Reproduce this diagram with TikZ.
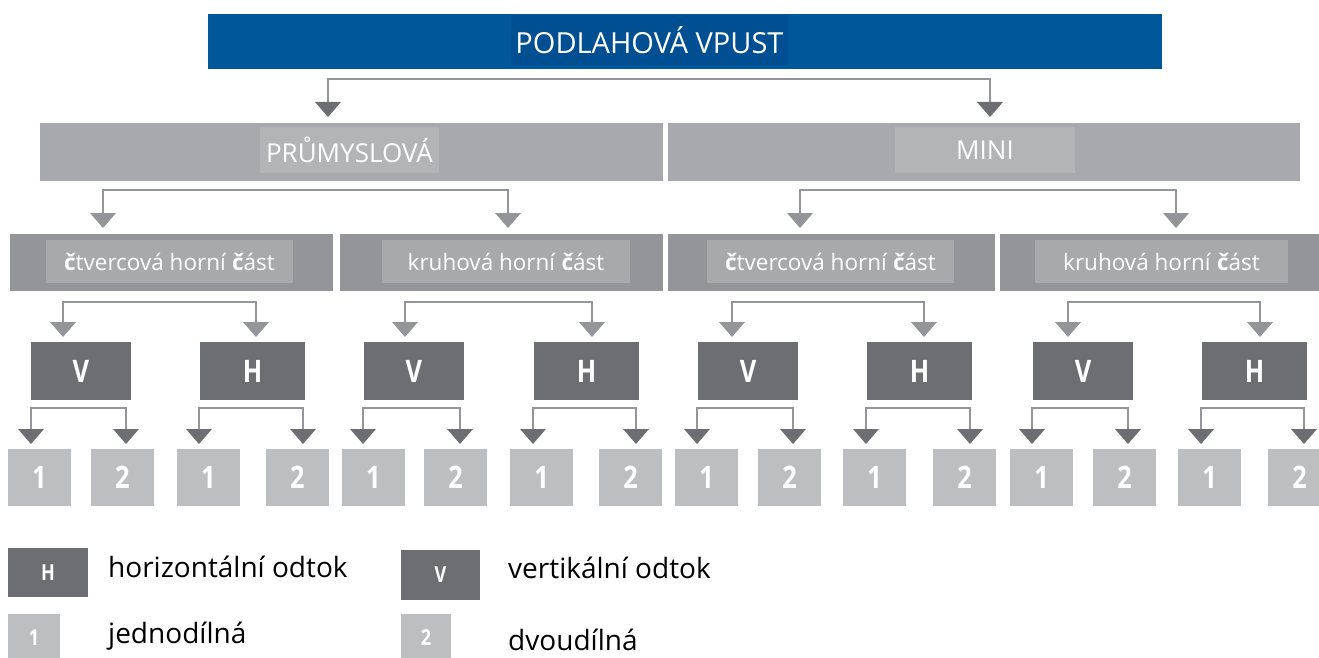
\documentclass[tikz,border=0pt]{standalone}
\usepackage{fontspec}
\usepackage{graphicx}
\setmainfont{Open Sans}
\usetikzlibrary{arrows.meta}
\definecolor{blueO}{HTML}{00579A}
\definecolor{blueI}{HTML}{004F92}
\definecolor{gLtwo}{HTML}{A7A9AC}
\definecolor{gLtwoI}{HTML}{B3B4B6}
\definecolor{gLthree}{HTML}{939598}
\definecolor{gLthreeI}{HTML}{A8A9AB}
\definecolor{gD}{HTML}{6D6E71}
\definecolor{gN}{HTML}{BCBEC0}
\definecolor{gLine}{HTML}{939598}
\newcommand\cnd[1]{\scalebox{0.82}[1]{\bfseries #1}}
\newcommand\mkbox[7]{\node[#6, minimum width={(#4)-(#2)}, minimum height={(#5)-(#3)}] (#1) at ({((#2)+(#4))/2},{((#3)+(#5))/2}) {#7};}
\tikzset{
  tD/.tip={Triangle[width=26pt,length=15pt,color=gD,line width=0pt]},
  tL/.tip={Triangle[width=26pt,length=15pt,color=gLthree,line width=0pt]},
  bx/.style={inner sep=0pt,outer sep=0pt,draw=none,text=white},
  conn/.style={draw=gLine,line width=2pt},
  ftop/.style={font=\fontsize{29}{32}\selectfont},
  ftwo/.style={font=\fontsize{26}{29}\selectfont},
  fthree/.style={font=\fontsize{22.5}{25}\selectfont},
  fbig/.style={font=\fontsize{31}{34}\selectfont},
  fleg/.style={font=\fontsize{28}{32}\selectfont,text=black,inner sep=0pt},
  fsmall/.style={font=\fontsize{22}{24}\selectfont},
}
\begin{document}
\begin{tikzpicture}[x=1pt,y=-1pt]
\useasboundingbox (0,0) rectangle (1319,658);
\clip (0,0) rectangle (1319,658);
% level 1
\mkbox{top}{208}{14}{1162}{69}{bx,fill=blueO}{}
\mkbox{topi}{511}{15}{788}{65}{bx,fill=blueI,ftop}{PODLAHOVÁ VPUST}
% level 2
\mkbox{pr}{40}{123}{663}{181}{bx,fill=gLtwo}{}
\mkbox{pri}{260}{127}{439}{173}{bx,fill=gLtwoI,ftwo}{PRŮMYSLOVÁ}
\mkbox{mi}{668}{123}{1300}{181}{bx,fill=gLtwo}{}
\mkbox{mii}{895}{127}{1075}{173}{bx,fill=gLtwoI,ftwo}{MINI}
% top fork
\coordinate (tpA) at (328,117);
\coordinate (tpB) at (990,117);
\draw[conn,{tD}-{tD}] (tpA) -- ++(0,-38) -| (tpB);
% level 2 forks
\coordinate (prA) at (103,228);
\coordinate (prB) at (508,228);
\draw[conn,{tL}-{tL}] (prA) -- ++(0,-38) -| (prB);
\coordinate (miA) at (800,228);
\coordinate (miB) at (1176,228);
\draw[conn,{tL}-{tL}] (miA) -- ++(0,-38) -| (miB);
% blocks
\foreach \n/\Lx/\Rx/\Ilx/\Irx/\txt/\ca/\cb/\vx/\hx/\vla/\vlb/\hla/\hlb/\na/\nb/\nc/\nd in {
 1/10/333/46/293/{\textbf{č}tvercová horní \textbf{č}ást}/63/256/31/200/31/126/199/303/8/91/177/266,
 2/340/663/382/630/{kruhová horní \textbf{č}ást}/405/592/364/534/363/460/533/636/342/424/510/599,
 3/668/995/707/954/{\textbf{č}tvercová horní \textbf{č}ást}/732/924/698/867/697/793/866/970/675/758/843/933,
 4/1000/1330/1035/1288/{kruhová horní \textbf{č}ást}/1068/1260/1033/1202/1032/1128/1201/1304/1010/1093/1178/1268}{
  \mkbox{L3-\n}{\Lx}{234}{\Rx}{291}{bx,fill=gLthree}{}
  \mkbox{L3i-\n}{\Ilx}{240}{\Irx}{283}{bx,fill=gLthreeI,fthree}{\txt}
  \mkbox{V-\n}{\vx}{342}{\vx+100}{400}{bx,fill=gD,fbig}{\cnd{V}}
  \mkbox{H-\n}{\hx}{342}{\hx+105}{400}{bx,fill=gD,fbig}{\cnd{H}}
  \coordinate (ca-\n) at (\ca,337);
  \coordinate (cb-\n) at (\cb,337);
  \draw[conn,{tL}-{tL}] (ca-\n) -- ++(0,-35) -| (cb-\n);
  \coordinate (va-\n) at (\vla,444);
  \coordinate (vb-\n) at (\vlb,444);
  \draw[conn,{tD}-{tD}] (va-\n) -- ++(0,-36) -| (vb-\n);
  \coordinate (ha-\n) at (\hla,444);
  \coordinate (hb-\n) at (\hlb,444);
  \draw[conn,{tD}-{tD}] (ha-\n) -- ++(0,-36) -| (hb-\n);
  \mkbox{Na-\n}{\na}{449}{\na+63}{506}{bx,fill=gN,fbig}{\cnd{1}}
  \mkbox{Nb-\n}{\nb}{449}{\nb+63}{506}{bx,fill=gN,fbig}{\cnd{2}}
  \mkbox{Nc-\n}{\nc}{449}{\nc+63}{506}{bx,fill=gN,fbig}{\cnd{1}}
  \mkbox{Nd-\n}{\nd}{449}{\nd+63}{506}{bx,fill=gN,fbig}{\cnd{2}}
}
% legend
\mkbox{lgH}{8}{548}{88}{597}{bx,fill=gD,fsmall}{\cnd{H}}
\node[fleg,anchor=base west] (lgHt) at (108,577) {horizontální odtok};
\mkbox{lgV}{401}{550}{480}{600}{bx,fill=gD,fsmall}{\cnd{V}}
\node[fleg,anchor=base west] (lgVt) at (508,578) {vertikální odtok};
\mkbox{lgA}{8}{614}{60}{662}{bx,fill=gN,fsmall}{\cnd{1}}
\node[fleg,anchor=base west] (lgAt) at (108,643) {jednodílná};
\mkbox{lgB}{401}{614}{451}{662}{bx,fill=gN,fsmall}{\cnd{2}}
\node[fleg,anchor=base west] (lgBt) at (508,650) {dvoudílná};
\end{tikzpicture}
\end{document}
